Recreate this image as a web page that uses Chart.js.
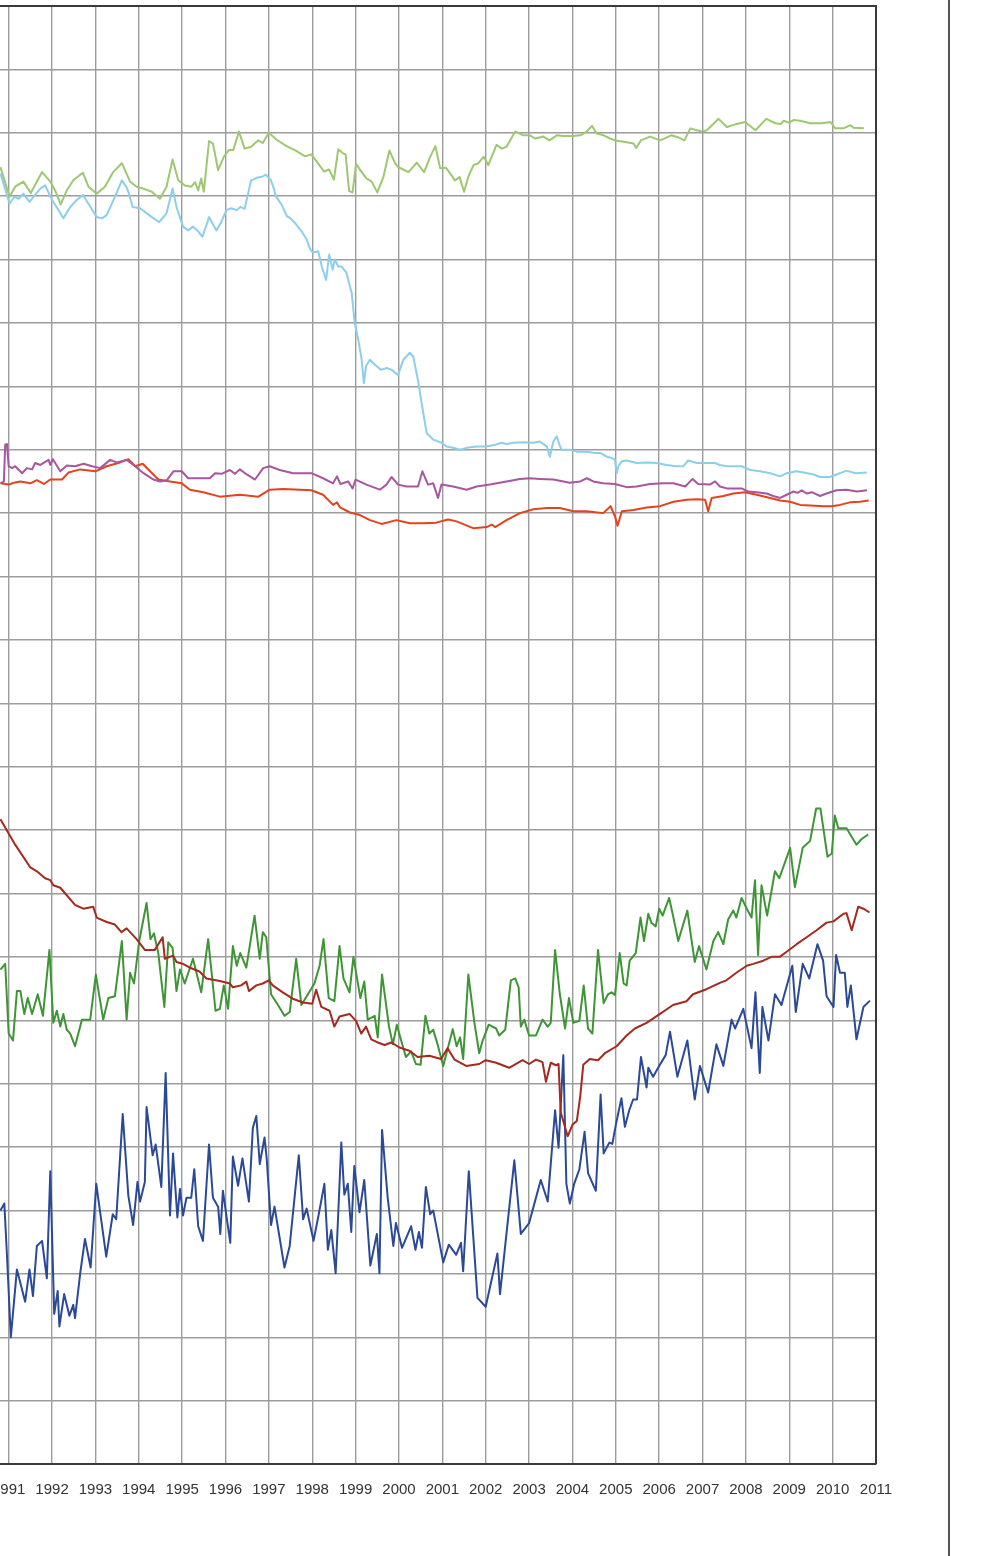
<!DOCTYPE html>
<html>
<head>
<meta charset="utf-8">
<title>Series 1991-2011</title>
<script src="https://cdn.jsdelivr.net/npm/chart.js@4.4.1/dist/chart.umd.min.js"></script>
<style>
    html, body { margin: 0; padding: 0; background: #ffffff; overflow: hidden; }
    body { width: 990px; height: 1556px; position: relative; }
    #chartBox { position: absolute; left: -80px; top: 0; width: 1070px; height: 1556px; }
    #pageEdge { position: absolute; left: 948px; top: 0; width: 2px; height: 1556px; background: #555555; }
</style>
</head>
<body>
<div id="chartBox"><canvas id="mainChart" width="1070" height="1556"></canvas></div>
<div id="pageEdge"></div>

<script>
// Years shown on the x axis
const yearTicks = [1991, 1992, 1993, 1994, 1995, 1996, 1997, 1998, 1999, 2000, 2001,
    2002, 2003, 2004, 2005, 2006, 2007, 2008, 2009, 2010, 2011];

// Values are in grid units (one horizontal grid line = 1), [year, value]
const lightGreen = [
    [1990.81,20.46],[1991.02,19.99],[1991.15,20.15],[1991.34,20.23],[1991.51,20.05],[1991.77,20.38],
    [1991.96,20.23],[1992.07,20.09],[1992.2,19.87],[1992.34,20.09],[1992.49,20.25],[1992.71,20.37],
    [1992.84,20.15],[1993.03,20.04],[1993.22,20.15],[1993.41,20.38],[1993.61,20.52],[1993.8,20.23],
    [1993.95,20.15],[1994.1,20.12],[1994.3,20.07],[1994.49,19.96],[1994.64,20.15],[1994.78,20.58],
    [1994.91,20.25],[1995.06,20.17],[1995.21,20.15],[1995.3,20.22],[1995.37,20.09],[1995.44,20.28],
    [1995.5,20.07],[1995.62,20.87],[1995.71,20.83],[1995.83,20.41],[1995.96,20.62],[1996.08,20.73],
    [1996.18,20.73],[1996.31,21.02],[1996.44,20.75],[1996.59,20.78],[1996.75,20.88],[1996.86,20.84],
    [1997.0,21.0],[1997.18,20.89],[1997.41,20.79],[1997.64,20.71],[1997.83,20.63],[1997.98,20.66],
    [1998.1,20.55],[1998.27,20.39],[1998.39,20.42],[1998.5,20.26],[1998.6,20.74],[1998.7,20.68],
    [1998.77,20.66],[1998.85,20.08],[1998.93,20.06],[1999.01,20.51],[1999.14,20.38],[1999.25,20.28],
    [1999.37,20.23],[1999.5,20.06],[1999.64,20.3],[1999.78,20.72],[1999.91,20.52],[1999.98,20.46],
    [2000.22,20.38],[2000.41,20.53],[2000.58,20.38],[2000.72,20.62],[2000.84,20.79],[2000.95,20.44],
    [2001.08,20.45],[2001.18,20.36],[2001.29,20.25],[2001.4,20.3],[2001.5,20.07],[2001.6,20.31],
    [2001.72,20.49],[2001.83,20.52],[2001.95,20.62],[2002.06,20.49],[2002.25,20.81],[2002.37,20.75],
    [2002.48,20.78],[2002.68,21.02],[2002.87,20.96],[2003.02,20.96],[2003.14,20.91],[2003.33,20.94],
    [2003.47,20.88],[2003.64,20.96],[2003.79,20.95],[2004.02,20.95],[2004.18,20.96],[2004.33,21.02],
    [2004.45,21.11],[2004.56,20.99],[2004.72,20.96],[2004.87,20.91],[2004.98,20.88],[2005.18,20.86],
    [2005.41,20.83],[2005.47,20.76],[2005.58,20.88],[2005.79,20.94],[2006.02,20.88],[2006.28,20.96],
    [2006.43,20.93],[2006.58,20.88],[2006.72,21.07],[2006.87,21.04],[2006.98,21.02],[2007.1,21.04],
    [2007.37,21.22],[2007.56,21.09],[2007.79,21.14],[2007.98,21.17],[2008.22,21.04],[2008.47,21.22],
    [2008.68,21.15],[2008.81,21.14],[2008.87,21.19],[2008.99,21.16],[2009.1,21.2],[2009.25,21.19],
    [2009.48,21.15],[2009.75,21.15],[2009.95,21.17],[2010.06,21.07],[2010.25,21.07],[2010.41,21.12],
    [2010.48,21.08],[2010.72,21.07]
];

const lightBlue = [
    [1990.81,20.36],[1991.02,19.88],[1991.13,19.99],[1991.23,19.96],[1991.34,20.04],[1991.48,19.91],
    [1991.57,19.99],[1991.73,20.12],[1991.84,20.17],[1992.0,19.94],[1992.15,19.78],[1992.26,19.65],
    [1992.42,19.83],[1992.57,19.94],[1992.71,20.02],[1992.84,19.88],[1993.03,19.67],[1993.15,19.65],
    [1993.26,19.7],[1993.45,19.99],[1993.61,20.25],[1993.71,20.15],[1993.76,20.07],[1993.86,19.83],
    [1994.03,19.81],[1994.3,19.67],[1994.47,19.59],[1994.64,19.73],[1994.78,20.12],[1994.87,19.83],
    [1995.02,19.52],[1995.14,19.46],[1995.25,19.52],[1995.35,19.46],[1995.47,19.36],[1995.62,19.67],
    [1995.79,19.46],[1995.9,19.59],[1996.02,19.78],[1996.13,19.81],[1996.26,19.78],[1996.34,19.83],
    [1996.44,19.8],[1996.52,20.04],[1996.59,20.25],[1996.72,20.29],[1996.86,20.31],[1996.93,20.34],
    [1997.04,20.26],[1997.12,20.11],[1997.16,20.0],[1997.29,19.87],[1997.42,19.68],[1997.48,19.66],
    [1997.6,19.58],[1997.75,19.45],[1997.87,19.32],[1997.95,19.16],[1998.02,19.11],[1998.14,19.13],
    [1998.22,18.89],[1998.32,18.68],[1998.39,19.08],[1998.47,18.84],[1998.52,19.0],[1998.6,18.89],
    [1998.68,18.89],[1998.79,18.79],[1998.91,18.47],[1998.98,18.0],[1999.06,17.74],[1999.14,17.42],
    [1999.19,17.05],[1999.24,17.32],[1999.33,17.42],[1999.45,17.34],[1999.58,17.26],[1999.72,17.29],
    [1999.83,17.26],[1999.98,17.18],[2000.1,17.42],[2000.25,17.53],[2000.33,17.47],[2000.45,17.05],
    [2000.52,16.74],[2000.64,16.26],[2000.79,16.16],[2000.98,16.11],[2001.1,16.05],[2001.25,16.03],
    [2001.41,16.0],[2001.56,16.03],[2001.79,16.05],[2002.02,16.05],[2002.22,16.08],[2002.37,16.11],
    [2002.48,16.09],[2002.64,16.11],[2002.87,16.12],[2003.1,16.11],[2003.25,16.13],[2003.35,16.08],
    [2003.41,16.05],[2003.48,15.89],[2003.56,16.13],[2003.64,16.21],[2003.7,16.08],[2003.75,16.0],
    [2003.94,16.0],[2004.1,15.97],[2004.33,15.97],[2004.52,15.95],[2004.64,15.95],[2004.79,15.89],
    [2004.91,15.87],[2004.98,15.84],[2005.02,15.63],[2005.06,15.74],[2005.14,15.82],[2005.25,15.83],
    [2005.48,15.79],[2005.71,15.8],[2005.94,15.79],[2006.17,15.76],[2006.4,15.74],[2006.56,15.74],
    [2006.67,15.83],[2006.87,15.79],[2007.1,15.79],[2007.29,15.79],[2007.4,15.76],[2007.56,15.74],
    [2007.71,15.74],[2007.9,15.74],[2008.1,15.68],[2008.33,15.66],[2008.56,15.63],[2008.79,15.58],
    [2008.94,15.63],[2009.17,15.66],[2009.33,15.64],[2009.56,15.61],[2009.71,15.57],[2009.94,15.57],
    [2010.09,15.61],[2010.32,15.67],[2010.52,15.63],[2010.79,15.64]
];

const purple = [
    [1990.81,15.47],[1990.89,15.5],[1990.92,16.08],[1990.96,16.09],[1991.0,15.74],[1991.08,15.71],
    [1991.15,15.74],[1991.31,15.63],[1991.42,15.71],[1991.54,15.69],[1991.61,15.79],[1991.73,15.76],
    [1991.92,15.84],[1991.96,15.76],[1992.02,15.85],[1992.19,15.66],[1992.34,15.75],[1992.53,15.74],
    [1992.73,15.78],[1992.92,15.74],[1993.11,15.71],[1993.34,15.84],[1993.49,15.8],[1993.72,15.84],
    [1993.88,15.76],[1994.11,15.63],[1994.34,15.53],[1994.49,15.5],[1994.65,15.52],[1994.8,15.66],
    [1994.99,15.66],[1995.14,15.55],[1995.41,15.55],[1995.64,15.55],[1995.76,15.63],[1995.91,15.62],
    [1996.1,15.68],[1996.22,15.62],[1996.33,15.69],[1996.49,15.61],[1996.68,15.53],[1996.87,15.71],
    [1997.02,15.74],[1997.25,15.68],[1997.56,15.63],[1997.98,15.63],[1998.25,15.55],[1998.48,15.47],
    [1998.57,15.58],[1998.65,15.46],[1998.83,15.5],[1998.93,15.39],[1999.0,15.53],[1999.25,15.45],
    [1999.56,15.37],[1999.71,15.45],[1999.83,15.57],[1999.98,15.45],[2000.17,15.42],[2000.44,15.42],
    [2000.54,15.66],[2000.67,15.45],[2000.79,15.47],[2000.9,15.24],[2000.98,15.45],[2001.25,15.42],
    [2001.56,15.37],[2001.79,15.42],[2002.1,15.45],[2002.48,15.5],[2002.79,15.54],[2003.02,15.55],
    [2003.25,15.54],[2003.56,15.53],[2003.94,15.48],[2004.18,15.5],[2004.33,15.55],[2004.48,15.5],
    [2004.71,15.47],[2004.98,15.46],[2005.25,15.41],[2005.48,15.42],[2005.79,15.46],[2006.1,15.47],
    [2006.33,15.47],[2006.6,15.42],[2006.77,15.54],[2006.9,15.46],[2007.17,15.45],[2007.29,15.5],
    [2007.4,15.42],[2007.56,15.39],[2007.9,15.39],[2008.06,15.34],[2008.25,15.33],[2008.48,15.31],
    [2008.63,15.27],[2008.79,15.24],[2008.94,15.29],[2009.09,15.34],[2009.19,15.32],[2009.29,15.36],
    [2009.4,15.31],[2009.52,15.33],[2009.71,15.27],[2009.86,15.31],[2010.09,15.36],[2010.32,15.37],
    [2010.56,15.34],[2010.79,15.36]
];

const orange = [
    [1990.81,15.47],[1991.0,15.45],[1991.12,15.48],[1991.27,15.5],[1991.5,15.47],[1991.65,15.52],
    [1991.81,15.46],[1991.96,15.53],[1992.23,15.53],[1992.38,15.64],[1992.65,15.69],[1993.0,15.66],
    [1993.26,15.74],[1993.57,15.8],[1993.76,15.85],[1993.92,15.74],[1994.09,15.78],[1994.26,15.66],
    [1994.45,15.53],[1994.72,15.5],[1994.99,15.47],[1995.18,15.37],[1995.49,15.33],[1995.87,15.26],
    [1996.33,15.29],[1996.76,15.26],[1997.02,15.37],[1997.33,15.38],[1997.72,15.37],[1997.98,15.36],
    [1998.25,15.29],[1998.48,15.13],[1998.57,15.17],[1998.64,15.09],[1998.87,15.01],[1999.1,14.97],
    [1999.33,14.89],[1999.6,14.83],[1999.94,14.89],[2000.25,14.84],[2000.55,14.84],[2000.86,14.85],
    [2001.13,14.9],[2001.33,14.87],[2001.72,14.76],[2002.02,14.78],[2002.14,14.82],[2002.22,14.78],
    [2002.48,14.89],[2002.79,15.0],[2003.1,15.06],[2003.41,15.08],[2003.71,15.08],[2004.02,15.03],
    [2004.33,15.03],[2004.71,15.0],[2004.88,15.11],[2004.98,14.95],[2005.04,14.8],[2005.14,15.03],
    [2005.41,15.05],[2005.71,15.09],[2006.02,15.11],[2006.33,15.18],[2006.64,15.21],[2006.87,15.22],
    [2007.06,15.21],[2007.13,15.03],[2007.21,15.24],[2007.48,15.27],[2007.71,15.31],[2007.98,15.33],
    [2008.25,15.29],[2008.56,15.24],[2008.79,15.2],[2009.02,15.18],[2009.25,15.13],[2009.48,15.12],
    [2009.79,15.11],[2009.98,15.11],[2010.17,15.13],[2010.4,15.17],[2010.63,15.18],[2010.83,15.2]
];

const darkRed = [
    [1990.81,10.17],[1991.15,9.77],[1991.5,9.41],[1991.65,9.35],[1991.84,9.24],[1991.96,9.21],
    [1992.03,9.13],[1992.19,9.09],[1992.53,8.82],[1992.72,8.76],[1992.95,8.79],[1993.03,8.62],
    [1993.26,8.55],[1993.45,8.51],[1993.6,8.39],[1993.72,8.45],[1993.95,8.28],[1994.14,8.11],
    [1994.37,8.11],[1994.55,8.31],[1994.6,7.97],[1994.79,8.02],[1994.87,7.92],[1995.02,7.89],
    [1995.21,7.82],[1995.4,7.77],[1995.56,7.66],[1995.87,7.62],[1996.1,7.58],[1996.17,7.52],
    [1996.36,7.55],[1996.48,7.61],[1996.54,7.46],[1996.71,7.55],[1996.86,7.58],[1997.0,7.63],
    [1997.09,7.55],[1997.32,7.44],[1997.55,7.34],[1997.79,7.28],[1998.0,7.26],[1998.09,7.48],
    [1998.21,7.21],[1998.4,7.15],[1998.51,6.9],[1998.63,7.06],[1998.86,7.1],[1999.01,6.99],
    [1999.13,6.79],[1999.24,6.9],[1999.36,6.7],[1999.51,6.65],[1999.67,6.61],[1999.82,6.65],
    [2000.01,6.57],[2000.24,6.52],[2000.43,6.42],[2000.7,6.44],[2000.97,6.39],[2001.12,6.56],
    [2001.28,6.38],[2001.55,6.28],[2001.85,6.31],[2002.0,6.37],[2002.24,6.33],[2002.54,6.25],
    [2002.85,6.37],[2003.0,6.31],[2003.16,6.38],[2003.31,6.34],[2003.39,6.03],[2003.5,6.33],
    [2003.62,6.29],[2003.68,6.31],[2003.73,5.55],[2003.89,5.17],[2004.0,5.35],[2004.1,5.41],
    [2004.18,5.8],[2004.25,6.3],[2004.4,6.39],[2004.59,6.37],[2004.75,6.48],[2005.02,6.59],
    [2005.25,6.76],[2005.44,6.87],[2005.71,6.96],[2006.02,7.1],[2006.32,7.24],[2006.63,7.3],
    [2006.78,7.41],[2007.09,7.49],[2007.4,7.59],[2007.55,7.63],[2007.78,7.75],[2008.02,7.86],
    [2008.17,7.89],[2008.4,7.94],[2008.59,8.0],[2008.78,8.0],[2008.94,8.08],[2009.17,8.2],
    [2009.4,8.31],[2009.63,8.42],[2009.86,8.54],[2010.02,8.56],[2010.25,8.68],[2010.32,8.69],
    [2010.44,8.42],[2010.59,8.79],[2010.71,8.76],[2010.85,8.7]
];

const green = [
    [1990.81,7.8],[1990.92,7.89],[1991.0,6.79],[1991.1,6.68],[1991.19,7.46],[1991.27,7.46],
    [1991.36,7.1],[1991.44,7.35],[1991.54,7.1],[1991.67,7.41],[1991.79,7.07],[1991.94,8.11],
    [1992.03,6.96],[1992.11,7.15],[1992.19,6.9],[1992.26,7.1],[1992.34,6.85],[1992.42,6.79],
    [1992.53,6.59],[1992.69,7.01],[1992.88,7.01],[1993.01,7.72],[1993.18,7.01],[1993.3,7.35],
    [1993.45,7.38],[1993.61,8.25],[1993.72,7.01],[1993.8,7.75],[1993.89,7.58],[1994.01,8.25],
    [1994.18,8.85],[1994.27,8.28],[1994.35,8.37],[1994.45,8.06],[1994.59,7.21],[1994.68,8.23],
    [1994.78,8.14],[1994.87,7.46],[1994.95,7.8],[1995.06,7.58],[1995.25,7.97],[1995.33,7.75],
    [1995.44,7.44],[1995.6,8.28],[1995.77,7.15],[1995.87,7.18],[1995.96,7.55],[1996.06,7.18],
    [1996.17,8.17],[1996.26,7.86],[1996.34,8.06],[1996.48,7.83],[1996.67,8.65],[1996.79,7.97],
    [1996.86,8.39],[1996.94,8.31],[1997.05,7.41],[1997.21,7.24],[1997.36,7.07],[1997.48,7.13],
    [1997.63,7.97],[1997.75,7.24],[1997.9,7.41],[1998.05,7.58],[1998.17,7.86],[1998.26,8.28],
    [1998.38,7.35],[1998.51,7.3],[1998.63,8.17],[1998.72,7.66],[1998.86,7.44],[1998.95,8.0],
    [1999.11,7.35],[1999.2,7.61],[1999.28,7.01],[1999.44,7.07],[1999.51,6.73],[1999.61,7.72],
    [1999.77,6.9],[1999.86,6.62],[1999.95,6.93],[2000.05,6.68],[2000.16,6.42],[2000.28,6.51],
    [2000.39,6.31],[2000.5,6.3],[2000.61,7.07],[2000.7,6.79],[2000.79,6.85],[2000.89,6.62],
    [2001.02,6.28],[2001.15,6.62],[2001.24,6.86],[2001.33,6.59],[2001.41,6.73],[2001.48,6.39],
    [2001.6,7.72],[2001.74,6.96],[2001.85,6.48],[2001.93,6.68],[2002.07,6.93],[2002.24,6.87],
    [2002.31,6.76],[2002.45,6.85],[2002.58,7.63],[2002.68,7.66],[2002.76,7.52],[2002.81,6.9],
    [2002.89,7.01],[2003.0,6.76],[2003.16,6.76],[2003.31,7.01],[2003.43,6.9],[2003.5,6.96],
    [2003.6,8.11],[2003.71,7.41],[2003.83,6.87],[2003.92,7.35],[2004.02,6.96],[2004.16,6.99],
    [2004.26,7.55],[2004.36,6.87],[2004.46,6.79],[2004.59,8.11],[2004.72,7.27],[2004.82,7.41],
    [2004.9,7.44],[2004.98,7.4],[2005.09,8.06],[2005.18,7.58],[2005.25,7.55],[2005.32,7.94],
    [2005.46,8.06],[2005.57,8.62],[2005.65,8.25],[2005.75,8.68],[2005.82,8.54],[2005.92,8.48],
    [2006.0,8.76],[2006.08,8.65],[2006.23,8.93],[2006.32,8.65],[2006.44,8.25],[2006.65,8.73],
    [2006.75,8.25],[2006.82,7.92],[2006.92,8.17],[2007.09,7.8],[2007.25,8.25],[2007.36,8.39],
    [2007.48,8.2],[2007.59,8.59],[2007.71,8.73],[2007.78,8.62],[2007.9,8.93],[2008.02,8.76],
    [2008.13,8.62],[2008.21,9.21],[2008.28,8.03],[2008.36,9.13],[2008.49,8.65],[2008.67,9.35],
    [2008.77,9.24],[2009.02,9.72],[2009.13,9.1],[2009.31,9.72],[2009.48,9.83],[2009.62,10.34],
    [2009.72,10.34],[2009.88,9.58],[2009.98,9.63],[2010.05,10.23],[2010.13,10.03],[2010.32,10.03],
    [2010.55,9.77],[2010.67,9.86],[2010.82,9.93]
];

const darkBlue = [
    [1990.81,4.0],[1990.9,4.11],[1990.96,3.3],[1991.05,2.0],[1991.19,3.07],[1991.38,2.56],
    [1991.48,3.07],[1991.56,2.65],[1991.65,3.44],[1991.77,3.52],[1991.88,2.93],[1991.96,4.62],
    [1992.05,2.37],[1992.13,2.73],[1992.17,2.17],[1992.28,2.68],[1992.4,2.34],[1992.49,2.51],
    [1992.53,2.3],[1992.65,3.01],[1992.76,3.55],[1992.89,3.1],[1993.02,4.42],[1993.11,3.97],
    [1993.25,3.27],[1993.4,3.94],[1993.48,3.86],[1993.63,5.52],[1993.76,4.23],[1993.87,3.77],
    [1993.97,4.45],[1994.03,4.14],[1994.14,4.45],[1994.18,5.63],[1994.32,4.87],[1994.39,5.04],
    [1994.52,4.37],[1994.62,6.17],[1994.72,3.92],[1994.79,4.9],[1994.89,3.89],[1994.95,4.34],
    [1995.02,3.92],[1995.1,4.2],[1995.21,4.2],[1995.28,4.65],[1995.37,3.75],[1995.48,3.52],
    [1995.62,5.04],[1995.71,4.2],[1995.83,4.06],[1995.88,3.63],[1995.94,4.31],[1996.02,3.92],
    [1996.11,3.49],[1996.17,4.85],[1996.29,4.39],[1996.39,4.82],[1996.54,4.14],[1996.63,5.3],
    [1996.71,5.49],[1996.79,4.73],[1996.9,5.15],[1996.95,4.82],[1997.05,3.77],[1997.13,4.06],
    [1997.36,3.1],[1997.48,3.44],[1997.69,4.87],[1997.79,3.86],[1997.87,4.03],[1998.03,3.52],
    [1998.15,3.94],[1998.28,4.42],[1998.36,3.38],[1998.44,3.69],[1998.54,3.01],[1998.67,5.07],
    [1998.74,4.25],[1998.82,4.42],[1998.9,3.66],[1998.97,4.7],[1999.09,3.97],[1999.2,4.48],
    [1999.34,3.13],[1999.49,3.63],[1999.55,3.01],[1999.61,5.27],[1999.74,4.2],[1999.87,3.44],
    [1999.93,3.8],[2000.07,3.41],[2000.28,3.75],[2000.38,3.38],[2000.46,3.66],[2000.53,3.41],
    [2000.62,4.37],[2000.72,3.94],[2000.79,4.0],[2001.02,3.18],[2001.15,3.46],[2001.32,3.3],
    [2001.43,3.49],[2001.48,3.04],[2001.61,4.62],[2001.81,2.62],[2002.0,2.48],[2002.27,3.32],
    [2002.33,2.68],[2002.66,4.79],[2002.81,3.63],[2003.0,3.8],[2003.27,4.48],[2003.43,4.14],
    [2003.6,5.58],[2003.68,4.99],[2003.79,6.45],[2003.86,4.42],[2003.94,4.11],[2004.04,4.42],
    [2004.16,4.65],[2004.28,5.24],[2004.36,4.59],[2004.54,4.31],[2004.65,5.83],[2004.72,4.9],
    [2004.85,5.07],[2004.92,5.05],[2005.0,5.35],[2005.13,5.77],[2005.21,5.32],[2005.31,5.58],
    [2005.4,5.75],[2005.49,5.75],[2005.58,6.42],[2005.71,5.94],[2005.75,6.25],[2005.86,6.11],
    [2006.0,6.28],[2006.15,6.45],[2006.25,6.82],[2006.42,6.11],[2006.65,6.68],[2006.82,5.75],
    [2006.94,6.28],[2007.13,5.86],[2007.32,6.62],[2007.48,6.28],[2007.67,7.01],[2007.75,6.87],
    [2007.94,7.18],[2008.13,6.56],[2008.22,7.44],[2008.32,6.17],[2008.38,7.21],[2008.52,6.68],
    [2008.67,7.41],[2008.82,7.24],[2009.07,7.86],[2009.15,7.13],[2009.31,7.89],[2009.46,7.66],
    [2009.65,8.2],[2009.78,7.94],[2009.86,7.38],[2010.02,7.21],[2010.08,8.03],[2010.17,7.75],
    [2010.28,7.75],[2010.34,7.21],[2010.42,7.55],[2010.55,6.7],[2010.71,7.21],[2010.86,7.31]
];

// Line colours
const seriesColors = {
    lightGreen: '#9fc772',
    lightBlue: '#8ccfea',
    purple: '#a8569f',
    orange: '#e4431d',
    darkRed: '#a4291f',
    green: '#3e9535',
    darkBlue: '#2a4997'
};

// Convert [year, value] pairs to points for Chart.js
function toPoints(pairs) {
    return pairs.map(p => ({ x: p[0], y: p[1] }));
}

function makeDataset(pairs, color) {
    return {
        data: toPoints(pairs),
        borderColor: color,
        borderWidth: 2,
        pointRadius: 0,
        tension: 0,
        fill: false,
        borderJoinStyle: 'round'
    };
}

// Top and right frame of the plot area
const frameLines = {
    id: 'frameLines',
    afterDraw(chart) {
        const a = chart.chartArea;
        const c = chart.ctx;
        c.save();
        c.strokeStyle = '#3a3a3a';
        c.lineWidth = 2;
        c.beginPath();
        c.moveTo(a.left - 2, a.top);
        c.lineTo(a.right, a.top);
        c.lineTo(a.right, a.bottom);
        c.stroke();
        c.restore();
    }
};

document.addEventListener('DOMContentLoaded', function() {
    const ctx = document.getElementById('mainChart').getContext('2d');

    new Chart(ctx, {
        type: 'line',
        data: {
            datasets: [
                makeDataset(lightGreen, seriesColors.lightGreen),
                makeDataset(lightBlue, seriesColors.lightBlue),
                makeDataset(purple, seriesColors.purple),
                makeDataset(orange, seriesColors.orange),
                makeDataset(darkRed, seriesColors.darkRed),
                makeDataset(green, seriesColors.green),
                makeDataset(darkBlue, seriesColors.darkBlue)
            ]
        },
        options: {
            responsive: false,
            animation: false,
            layout: { padding: { left: 80, right: 114, top: 6, bottom: 0 } },
            plugins: {
                legend: { display: false },
                tooltip: { enabled: false }
            },
            scales: {
                x: {
                    type: 'linear',
                    min: 1990.8,
                    max: 2011,
                    afterBuildTicks: s => { s.ticks = yearTicks.map(v => ({ value: v })); },
                    afterFit: s => { s.height = 92; },
                    grid: { color: '#9c9c9c', lineWidth: 1.4, drawTicks: false },
                    border: { color: '#3a3a3a', width: 2 },
                    ticks: {
                        autoSkip: false,
                        maxRotation: 0,
                        padding: 17,
                        color: '#333333',
                        font: { family: '"Liberation Sans", Arial, sans-serif', size: 15 },
                        callback: v => String(v)
                    }
                },
                y: {
                    min: 0,
                    max: 23,
                    afterFit: s => { s.width = 0; },
                    grid: { color: '#9c9c9c', lineWidth: 1.4, drawTicks: false },
                    border: { display: false },
                    ticks: { display: false, stepSize: 1 }
                }
            }
        },
        plugins: [frameLines]
    });
});
</script>
</body>
</html>
